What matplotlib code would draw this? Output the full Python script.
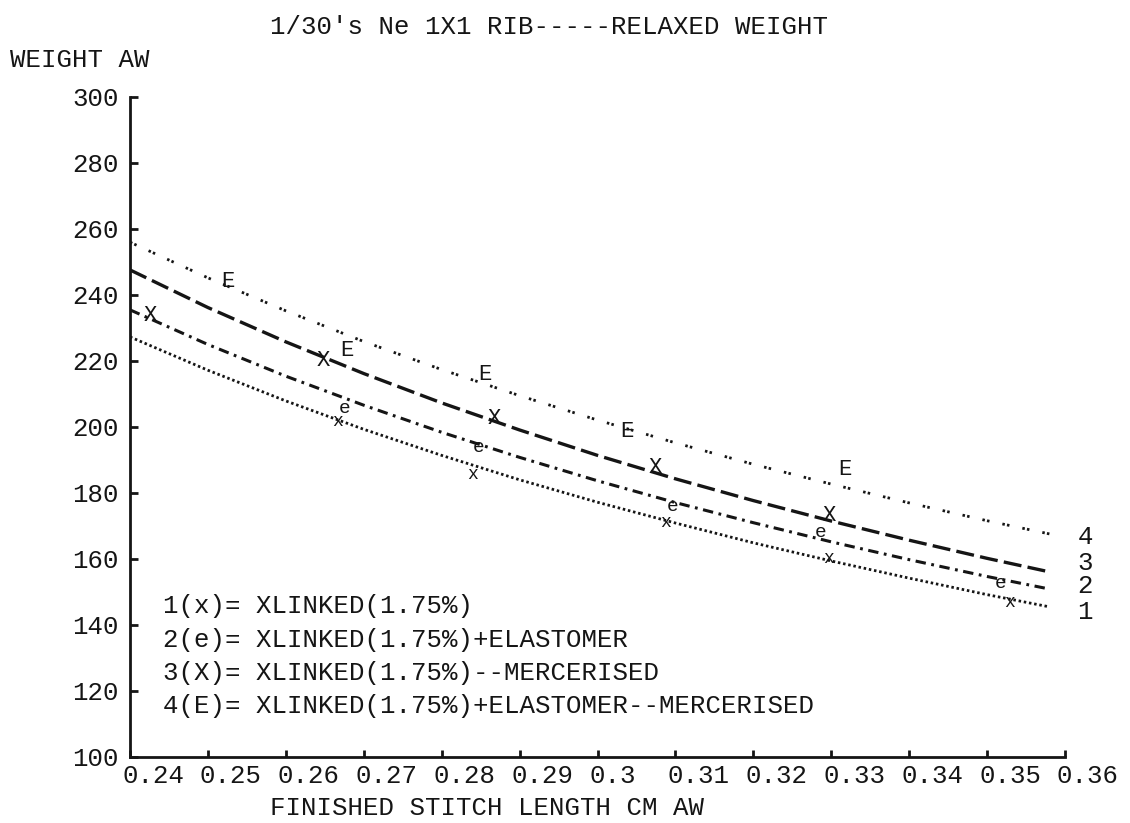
import matplotlib
matplotlib.use("Agg")
import matplotlib.pyplot as plt
import matplotlib.transforms as mtransforms

# ---------------- data ----------------
title = "1/30's Ne 1X1 RIB-----RELAXED WEIGHT"
y_title = "WEIGHT AW"
x_title = "FINISHED STITCH LENGTH CM AW"

x_ticks = [0.24, 0.25, 0.26, 0.27, 0.28, 0.29, 0.30, 0.31, 0.32, 0.33, 0.34, 0.35, 0.36]
x_tick_labels = ["0.24", "0.25", "0.26", "0.27", "0.28", "0.29", "0.3",
                 "0.31", "0.32", "0.33", "0.34", "0.35", "0.36"]
y_ticks = [100, 120, 140, 160, 180, 200, 220, 240, 260, 280, 300]

# fitted curves
curve_x = [0.24, 0.25, 0.26, 0.27, 0.28, 0.29, 0.30, 0.31, 0.32, 0.33, 0.34, 0.35, 0.358]
curve1_y = [227.3, 217.2, 207.9, 199.3, 191.4, 184.0, 177.2, 170.9, 164.9, 159.4, 154.2, 149.2, 145.5]
curve2_y = [235.5, 225.0, 215.4, 206.6, 198.4, 190.8, 183.7, 177.1, 171.0, 165.2, 159.8, 154.7, 150.9]
curve3_y = [247.6, 236.2, 225.8, 216.2, 207.3, 199.1, 191.4, 184.3, 177.7, 171.5, 165.7, 160.2, 156.1]
curve4_y = [256.0, 245.2, 235.2, 225.9, 217.4, 209.5, 202.1, 195.2, 188.7, 182.7, 177.0, 171.6, 167.6]

# measured points
s1_x = [0.2666, 0.2839, 0.3087, 0.3296, 0.3529]
s1_y = [201.8, 185.5, 171.0, 160.3, 146.7]
s2_x = [0.2676, 0.2847, 0.3096, 0.3286, 0.3517]
s2_y = [205.6, 193.9, 175.9, 167.9, 152.7]
s3_x = [0.2426, 0.2648, 0.2868, 0.3074, 0.3298]
s3_y = [233.9, 220.3, 202.7, 187.6, 173.3]
s4_x = [0.2526, 0.2679, 0.2856, 0.3038, 0.3318]
s4_y = [244.2, 223.3, 215.8, 198.5, 187.0]

series_symbols = ["x", "e", "X", "E"]
end_labels = ["4", "3", "2", "1"]
end_label_y = [166.7, 158.8, 151.8, 144.0]

legend_lines = [
    "1(x)= XLINKED(1.75%)",
    "2(e)= XLINKED(1.75%)+ELASTOMER",
    "3(X)= XLINKED(1.75%)--MERCERISED",
    "4(E)= XLINKED(1.75%)+ELASTOMER--MERCERISED",
]

# ---------------- style ----------------
W, H = 1130, 823
FONT = "Liberation Mono"
FS = 18.5
INK = "#151515"
plt.rcParams["lines.scale_dashes"] = False

fig = plt.figure(figsize=(W / 100, H / 100), dpi=100)
fig.patch.set_facecolor("white")

left, right, top, bottom = 130, 1065, 97, 757
ax = fig.add_axes([left / W, 1 - bottom / H, (right - left) / W, (bottom - top) / H])
ax.set_xlim(0.24, 0.36)
ax.set_ylim(100, 300)

for s in ["top", "right"]:
    ax.spines[s].set_visible(False)
for s in ["left", "bottom"]:
    ax.spines[s].set_linewidth(2.0)
    ax.spines[s].set_color(INK)

ax.set_yticks(y_ticks)
ax.set_yticklabels([str(v) for v in y_ticks])
ax.set_xticks(x_ticks)
ax.set_xticklabels(x_tick_labels)
ax.tick_params(axis="y", direction="in", length=6, width=2, colors=INK, pad=8,
               labelsize=FS)
ax.tick_params(axis="x", direction="in", length=5, width=2, colors=INK, pad=5,
               labelsize=FS)
for lab in ax.get_yticklabels():
    lab.set_fontfamily(FONT)
off = mtransforms.ScaledTranslation(-8 / 100, 0, fig.dpi_scale_trans)
for lab in ax.get_xticklabels():
    lab.set_fontfamily(FONT)
    lab.set_horizontalalignment("left")
    lab.set_transform(lab.get_transform() + off)

# curves
ax.plot(curve_x, curve1_y, color=INK, lw=2.0, dashes=(1.8, 2.0))
ax.plot(curve_x, curve2_y, color=INK, lw=2.2, dashes=(7.5, 4.0, 2.0, 4.0))
ax.plot(curve_x, curve3_y, color=INK, lw=2.4, dashes=(13.0, 4.5))
ax.plot(curve_x, curve4_y, color=INK, lw=2.0, dashes=(1.8, 1.6, 1.8, 9.5))

# markers (plot symbols as letters)
marker_sizes = [13, 14, 16, 16]
for xs, ys, sym, ms in zip([s1_x, s2_x, s3_x, s4_x], [s1_y, s2_y, s3_y, s4_y],
                           series_symbols, marker_sizes):
    for xv, yv in zip(xs, ys):
        ax.text(xv, yv, sym, ha="center", va="center", fontsize=ms,
                fontfamily=FONT, color=INK, clip_on=False)

# end-of-curve labels
for lab, yv in zip(end_labels, end_label_y):
    ax.text(0.3626, yv, lab, ha="center", va="center", fontsize=FS,
            fontfamily=FONT, color=INK, clip_on=False)

# legend text
for i, line in enumerate(legend_lines):
    fig.text(163 / W, 1 - (606 + i * 33.5) / H, line, ha="left", va="center",
             fontsize=FS, fontfamily=FONT, color=INK)

fig.text(270 / W, 1 - 27 / H, title, ha="left", va="center", fontsize=FS,
         fontfamily=FONT, color=INK)
fig.text(10 / W, 1 - 60 / H, y_title, ha="left", va="center", fontsize=FS,
         fontfamily=FONT, color=INK)
fig.text(270 / W, 1 - 808 / H, x_title, ha="left", va="center", fontsize=FS,
         fontfamily=FONT, color=INK)

fig.savefig("out.png", dpi=100, facecolor="white")
